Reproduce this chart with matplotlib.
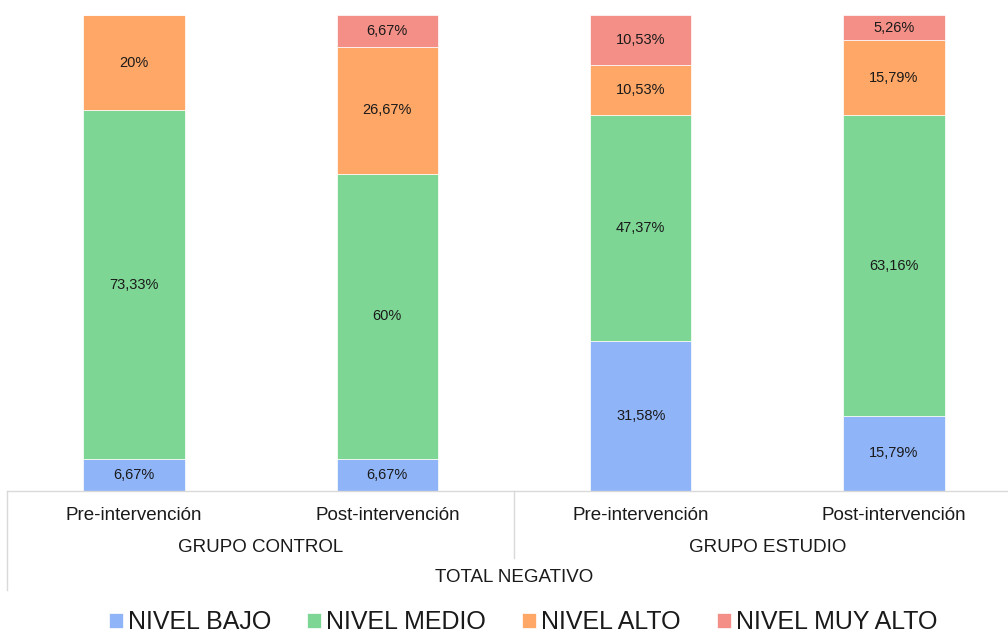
import numpy as np
import matplotlib.pyplot as plt
from matplotlib.lines import Line2D

plt.rcParams['font.family'] = ['Liberation Sans', 'DejaVu Sans']

# datos: porcentajes por nivel en cada grupo / momento
etapas = ["Pre-intervención", "Post-intervención", "Pre-intervención", "Post-intervención"]
grupos = ["GRUPO CONTROL", "GRUPO ESTUDIO"]
total = "TOTAL NEGATIVO"
niveles = ["NIVEL BAJO", "NIVEL MEDIO", "NIVEL ALTO", "NIVEL MUY ALTO"]
bajo = [6.67, 6.67, 31.58, 15.79]
medio = [73.33, 60.0, 47.37, 63.16]
alto = [20.0, 26.67, 10.53, 15.79]
muy_alto = [0.0, 6.67, 10.53, 5.26]
colores = ["#8FB4F8", "#7DD694", "#FFA766", "#F38F86"]

fig = plt.figure(figsize=(10.08, 6.32), dpi=100)
ax = fig.add_axes([7.3/1008, (632-491)/632, 1013.4/1008, 476/632])

x = np.arange(len(etapas))
base = np.zeros(len(etapas))
series = [bajo, medio, alto, muy_alto]
for nombre, vals, c in zip(niveles, series, colores):
    vals = np.array(vals)
    ax.bar(x, vals, 0.40, bottom=base, color=c, edgecolor='white', lw=0.5, label=nombre)
    for xi, b, v in zip(x, base, vals):
        if v > 0:
            txt = ("%g" % v).replace('.', ',') + "%"
            ax.text(xi, b + v/2, txt, ha='center', va='center', fontsize=10.5, color='#1a1a1a')
    base += vals

ax.set_xlim(-0.5, 3.5)
ax.set_ylim(0, 100)
ax.axis('off')

# eje de categorias con varios niveles
gris = '#D9D9D9'
tr = ax.get_xaxis_transform()
def py(p):
    return (491 - p) / 476.0
ax.add_line(Line2D([-0.5, 3.5], [0, 0], transform=tr, color=gris, lw=1, clip_on=False))
ax.add_line(Line2D([-0.5, -0.5], [0, py(590)], transform=tr, color=gris, lw=1, clip_on=False))
ax.add_line(Line2D([1.5, 1.5], [0, py(558)], transform=tr, color=gris, lw=1, clip_on=False))

for xi, e in zip(x, etapas):
    ax.text(xi, py(515), e, transform=tr, ha='center', va='center', fontsize=13.5, color='#1a1a1a')
for i, g in enumerate(grupos):
    ax.text(2*i + 0.5, py(548), g, transform=tr, ha='center', va='center', fontsize=13.5, color='#1a1a1a')
ax.text(1.5, py(578), total, transform=tr, ha='center', va='center', fontsize=13.5, color='#1a1a1a')

fig.legend(loc='center', bbox_to_anchor=(523/1008, 1 - 622/632), ncol=4, frameon=False,
           fontsize=18, handlelength=0.55, handleheight=0.55, handletextpad=0.2,
           columnspacing=1.45, labelcolor='#1a1a1a')

fig.savefig("out.png", dpi=100)
